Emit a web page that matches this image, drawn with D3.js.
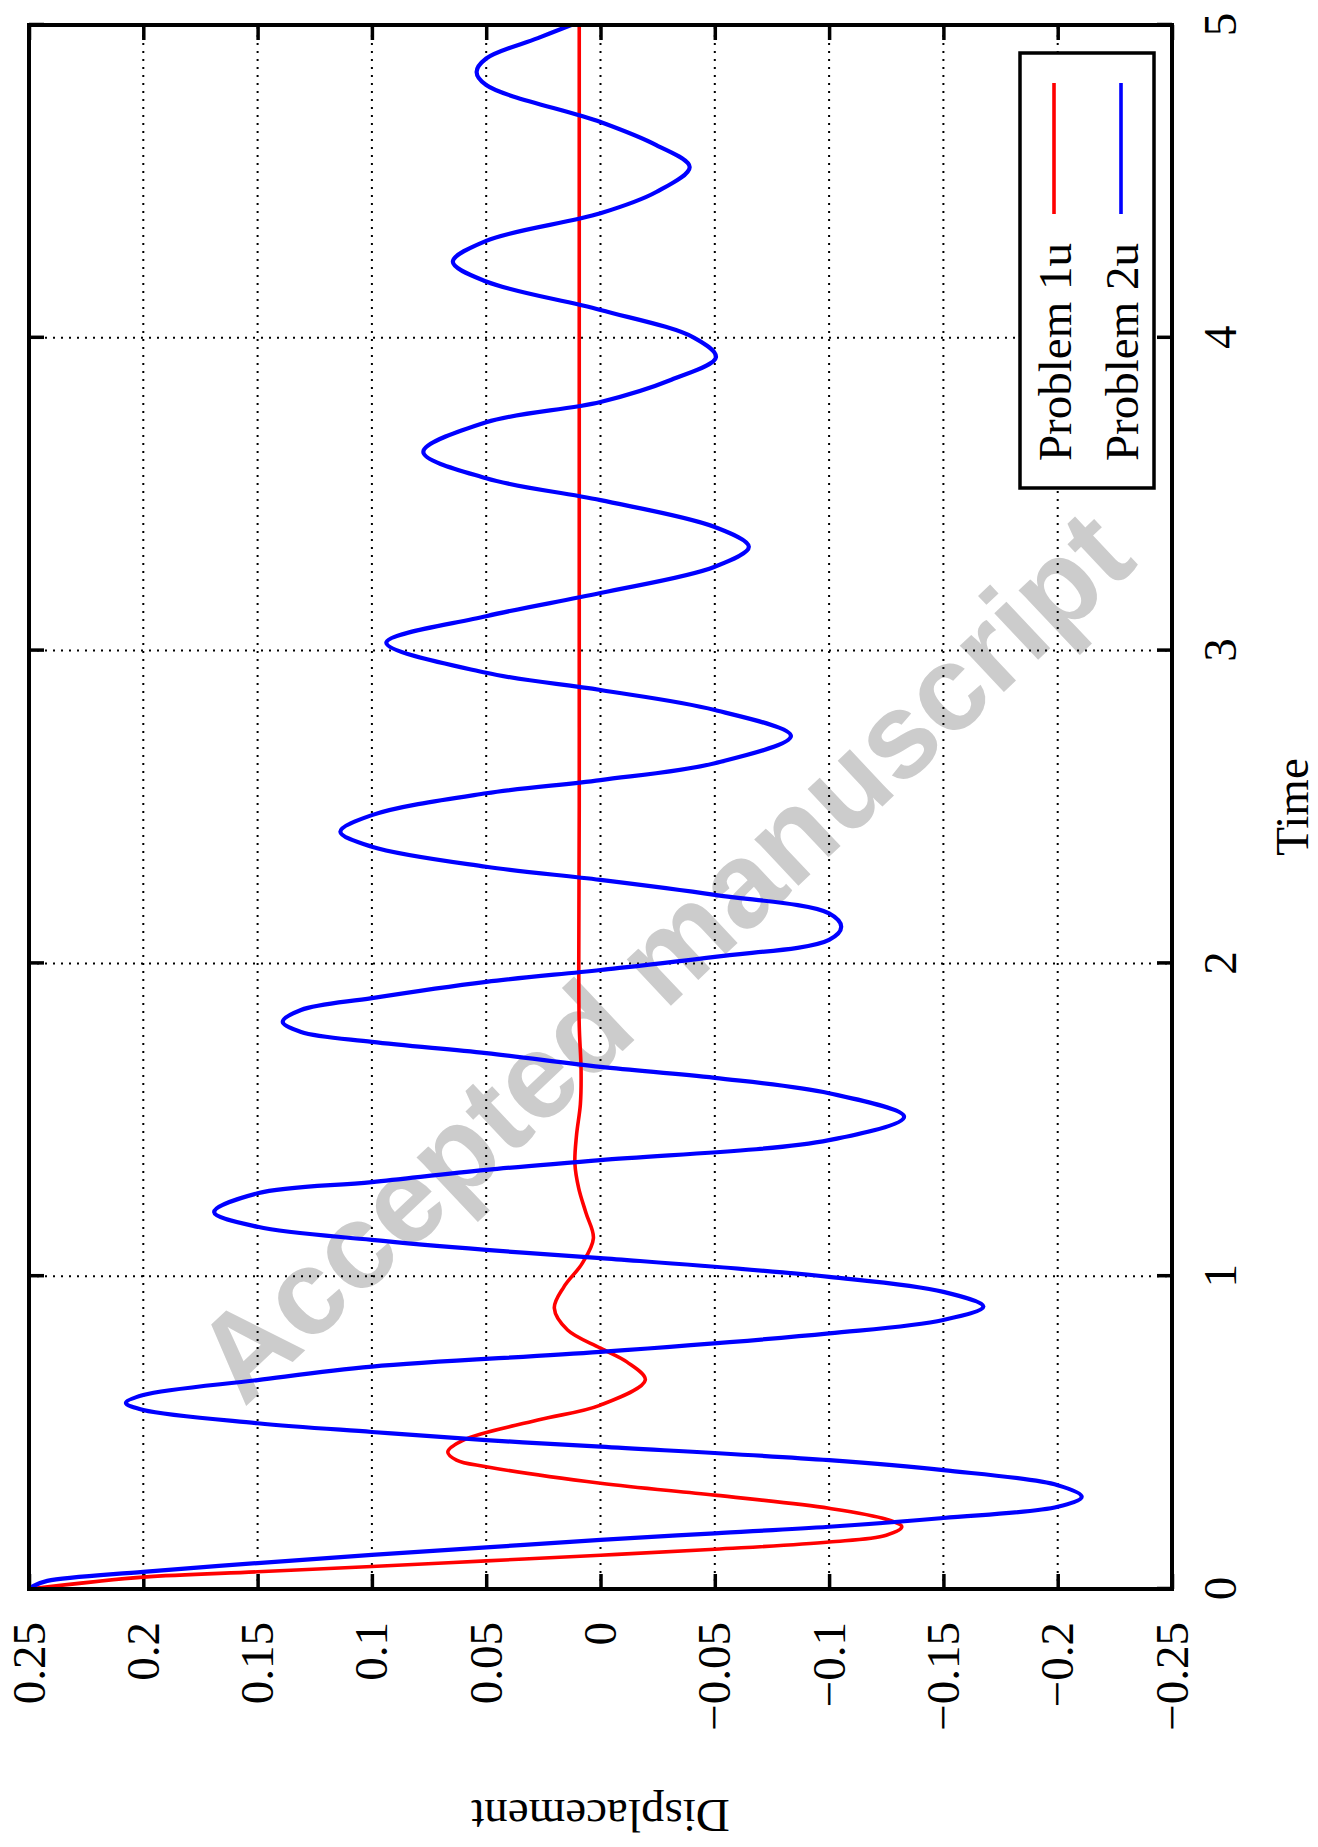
<!DOCTYPE html>
<html>
<head>
<meta charset="utf-8">
<script src="https://cdn.jsdelivr.net/npm/d3@7/dist/d3.min.js"></script>
<style>
  html, body { margin: 0; padding: 0; background: #fff; }
  svg { display: block; }
</style>
</head>
<body>
<script>
// ---------------- data ----------------
const timeTicks = [0, 1, 2, 3, 4, 5];
const timeTickLabels = ["0", "1", "2", "3", "4", "5"];
const dispTicks = [-0.25, -0.2, -0.15, -0.1, -0.05, 0, 0.05, 0.1, 0.15, 0.2, 0.25];
const dispTickLabels = ["\u22120.25", "\u22120.2", "\u22120.15", "\u22120.1", "\u22120.05", "0", "0.05", "0.1", "0.15", "0.2", "0.25"];
const seriesNames = ["Problem 1u", "Problem 2u"];
const seriesColors = ["#ff0000", "#0000ff"];

// Problem 1u (red)
const redT = [0, 0.038, 0.055, 0.072, 0.09, 0.108, 0.127, 0.150, 0.172, 0.199, 0.223, 0.258, 0.300, 0.338, 0.391, 0.412, 0.438, 0.476, 0.540, 0.588, 0.668, 0.726, 0.770, 0.828, 0.898, 0.966, 1.041, 1.122, 1.201, 1.28, 1.36, 1.45, 1.55, 1.66, 1.8, 2.0, 2.5, 3.0, 3.5, 4.0, 4.5, 5.0];
const redV = [0.25, 0.2, 0.15, 0.1, 0.05, 0, -0.05, -0.1, -0.125, -0.1318, -0.125, -0.1, -0.05, 0, 0.05, 0.063, 0.0668, 0.06, 0.0274, 0, -0.0196, -0.0115, 0, 0.0144, 0.0202, 0.016, 0.008, 0.0031, 0.0063, 0.0095, 0.0112, 0.0105, 0.0088, 0.0085, 0.0093, 0.0095, 0.0093, 0.0093, 0.0093, 0.0093, 0.0093, 0.0093];

// Problem 2u (blue)
const blueT = [0, 0.01, 0.026, 0.055, 0.083, 0.109, 0.133, 0.157, 0.178, 0.199, 0.227, 0.263, 0.295, 0.332, 0.380, 0.412, 0.455, 0.476, 0.502, 0.530, 0.572, 0.595, 0.620, 0.668, 0.711, 0.758, 0.817, 0.860, 0.903, 0.950, 0.998, 1.058, 1.084, 1.116, 1.158, 1.205, 1.265, 1.301, 1.340, 1.371, 1.435, 1.510, 1.585, 1.634, 1.669, 1.713, 1.749, 1.781, 1.813, 1.851, 1.889, 1.941, 1.979, 2.021, 2.075, 2.117, 2.160, 2.219, 2.267, 2.309, 2.373, 2.421, 2.474, 2.544, 2.586, 2.640, 2.727, 2.810, 2.874, 2.929, 3.025, 3.11, 3.184, 3.268, 3.332, 3.395, 3.481, 3.551, 3.635, 3.73, 3.795, 3.866, 3.938, 4.000, 4.089, 4.180, 4.243, 4.310, 4.398, 4.466, 4.546, 4.616, 4.690, 4.808, 4.850, 4.893, 4.958, 5.000];
const blueV = [0.25, 0.248, 0.242, 0.2, 0.15, 0.1, 0.05, 0, -0.05, -0.1, -0.15, -0.2, -0.2105, -0.2, -0.15, -0.1, 0, 0.05, 0.1, 0.15, 0.2, 0.2076, 0.2, 0.15, 0.1, 0, -0.1, -0.15, -0.1675, -0.15, -0.1, 0, 0.05, 0.1, 0.15, 0.169, 0.15, 0.1, 0.05, 0, -0.1, -0.1328, -0.1, -0.05, 0, 0.05, 0.1, 0.131, 0.139, 0.131, 0.1, 0.05, 0, -0.05, -0.1, -0.1053, -0.1, -0.05, 0, 0.05, 0.1, 0.1138, 0.1, 0.05, 0, -0.05, -0.0833, -0.05, 0, 0.05, 0.0937, 0.05, 0, -0.05, -0.0649, -0.05, 0, 0.05, 0.0775, 0.05, 0, -0.031, -0.0505, -0.041, 0, 0.05, 0.0646, 0.05, 0, -0.0244, -0.039, -0.0244, 0, 0.05, 0.0542, 0.05, 0.0274, 0.0128];

// ---------------- drawing ----------------
const W = 1318, H = 1847;
const FONT = "'Liberation Serif', 'Times New Roman', serif";
const FS = 47;

const svg = d3.select("body").append("svg")
  .attr("width", W).attr("height", H)
  .attr("viewBox", `0 0 ${W} ${H}`);
svg.append("rect").attr("width", W).attr("height", H).attr("fill", "#fff");

// Watermark (screen coordinates, behind everything)
svg.append("text")
  .attr("transform", "translate(244,1408) rotate(-43.3)")
  .attr("font-family", "'Liberation Sans', Arial, sans-serif")
  .attr("font-weight", "bold")
  .attr("font-size", 121)
  .attr("fill", "#cccccc")
  .attr("text-anchor", "start")
  .text("Accepted manuscript");

// Landscape chart, rotated 90deg counter-clockwise onto the page
const g = svg.append("g").attr("transform", `translate(0,${H}) rotate(-90)`);

const x = d3.scaleLinear().domain([0, 5]).range([258, 1822]);
const y = d3.scaleLinear().domain([-0.25, 0.25]).range([1172, 29]);

// grid
const grid = g.append("g").attr("stroke", "#000").attr("stroke-width", 2)
  .attr("stroke-dasharray", "2,6").attr("fill", "none");
grid.selectAll("line.gx").data(timeTicks.slice(1, -1)).join("line")
  .attr("x1", d => x(d)).attr("x2", d => x(d))
  .attr("y1", y(0.25)).attr("y2", y(-0.25));
grid.selectAll("line.gy").data(dispTicks.slice(1, -1)).join("line")
  .attr("class", "gy")
  .attr("x1", x(0)).attr("x2", x(5))
  .attr("y1", d => y(d)).attr("y2", d => y(d));

// axes (ticks inward, mirrored)
function styleAxis(sel, showText) {
  sel.select(".domain").remove();
  sel.selectAll(".tick line").attr("stroke", "#000").attr("stroke-width", 3.5);
  sel.selectAll(".tick text")
    .attr("font-family", FONT).attr("font-size", FS).attr("fill", "#000");
  if (!showText) sel.selectAll(".tick text").remove();
}
const axB = g.append("g").attr("transform", `translate(0,${y(-0.25)})`)
  .call(d3.axisBottom(x).tickValues(timeTicks).tickFormat((d, i) => timeTickLabels[i])
    .tickSizeInner(-15).tickSizeOuter(0).tickPadding(31));
styleAxis(axB, true);
const axT = g.append("g").attr("transform", `translate(0,${y(0.25)})`)
  .call(d3.axisTop(x).tickValues(timeTicks).tickSizeInner(-15).tickSizeOuter(0));
styleAxis(axT, false);
const axL = g.append("g").attr("transform", `translate(${x(0)},0)`)
  .call(d3.axisLeft(y).tickValues(dispTicks).tickFormat((d, i) => dispTickLabels[i])
    .tickSizeInner(-15).tickSizeOuter(0).tickPadding(33));
styleAxis(axL, true);
const axR = g.append("g").attr("transform", `translate(${x(5)},0)`)
  .call(d3.axisRight(y).tickValues(dispTicks).tickSizeInner(-15).tickSizeOuter(0));
styleAxis(axR, false);

// curves
const line = d3.line().x(d => x(d[0])).y(d => y(d[1])).curve(d3.curveCatmullRom.alpha(0.5));
const redData = redT.map((t, i) => [t, redV[i]]);
const blueData = blueT.map((t, i) => [t, blueV[i]]);
g.append("clipPath").attr("id", "clipPlot").append("rect")
  .attr("x", x(0)).attr("y", y(0.25)).attr("width", x(5) - x(0)).attr("height", y(-0.25) - y(0.25));
g.append("path").datum(redData).attr("d", line).attr("fill", "none")
  .attr("stroke", seriesColors[0]).attr("stroke-width", 3.6).attr("stroke-linejoin", "round")
  .attr("clip-path", "url(#clipPlot)");
g.append("path").datum(blueData).attr("d", line).attr("fill", "none")
  .attr("stroke", seriesColors[1]).attr("stroke-width", 4.2).attr("stroke-linejoin", "round")
  .attr("clip-path", "url(#clipPlot)");

// legend
g.append("rect").attr("x", 1359).attr("y", 1020).attr("width", 435).attr("height", 134)
  .attr("fill", "#fff").attr("stroke", "#000").attr("stroke-width", 3.5);
const legRows = [1054, 1121];
seriesNames.forEach((name, i) => {
  g.append("text").attr("x", 1604).attr("y", legRows[i] + 17)
    .attr("text-anchor", "end").attr("font-family", FONT).attr("font-size", FS)
    .attr("fill", "#000").text(name);
  g.append("line").attr("x1", 1633).attr("x2", 1764)
    .attr("y1", legRows[i]).attr("y2", legRows[i])
    .attr("stroke", seriesColors[i]).attr("stroke-width", 3.6);
});

// frame
g.append("rect").attr("x", x(0)).attr("y", y(0.25))
  .attr("width", x(5) - x(0)).attr("height", y(-0.25) - y(0.25))
  .attr("fill", "none").attr("stroke", "#000").attr("stroke-width", 4);

// axis titles
g.append("text").attr("x", (x(0) + x(5)) / 2).attr("y", 1308)
  .attr("text-anchor", "middle").attr("font-family", FONT).attr("font-size", FS)
  .attr("fill", "#000").text("Time");
g.append("text").attr("transform", `translate(47,${(y(0.25) + y(-0.25)) / 2}) rotate(-90)`)
  .attr("text-anchor", "middle").attr("font-family", FONT).attr("font-size", FS)
  .attr("fill", "#000").text("Displacement");
</script>
</body>
</html>
